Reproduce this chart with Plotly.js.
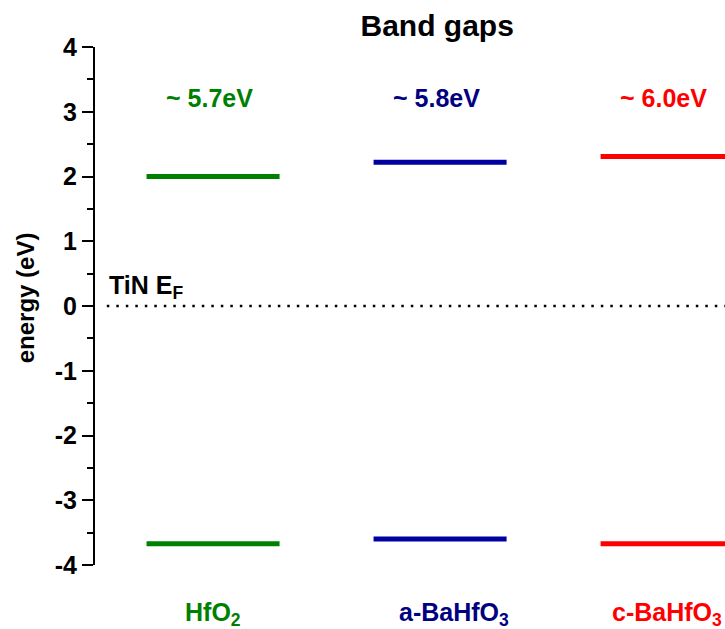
<!DOCTYPE html>
<html><head><meta charset="utf-8">
<script src="https://cdn.plot.ly/plotly-3.0.1.min.js"></script>
<style>body{margin:0;background:#fff}</style>
</head><body><div id="chart" style="width:725px;height:629px"></div>
<script>
// ---- data ----
const materials = ['HfO<sub>2</sub>', 'a-BaHfO<sub>3</sub>', 'c-BaHfO<sub>3</sub>'];
const cbm = [2.0, 2.22, 2.31];        // conduction band minimum (eV)
const vbm = [-3.67, -3.6, -3.67];     // valence band maximum (eV)
const gapLabels = ['~ 5.7eV', '~ 5.8eV', '~ 6.0eV'];
const fermiLevel = 0;
const fermiLabel = 'TiN E<sub>F</sub>';
const yTickVals = [-4, -3, -2, -1, 0, 1, 2, 3, 4];
const yTickText = ['-4', '-3', '-2', '-1', '0', '1', '2', '3', '4'];

// ---- styles ----
const lineColors = ['#008000', '#0000A0', '#FF0000'];
const textColors = ['#008000', '#000080', '#FF0000'];
const FONT = 'Liberation Sans, Arial, sans-serif';
const halfW = 0.293;
const xRange = [-0.52, 2.255];
const gapLabelY = 3.22;
const bottomShift = [0, 14, 0];

const traces = materials.map((m, i) => ({
  type: 'scatter', mode: 'lines',
  x: [i - halfW, i + halfW, null, i - halfW, i + halfW],
  y: [cbm[i], cbm[i], null, vbm[i], vbm[i]],
  line: {color: lineColors[i], width: 5},
  hoverinfo: 'skip', showlegend: false
}));
traces.push({
  type: 'scatter', mode: 'lines',
  x: [-0.468, xRange[1] + 0.2],
  y: [fermiLevel, fermiLevel],
  line: {color: '#000', width: 2.5, dash: '2.5px,7px'},
  hoverinfo: 'skip', showlegend: false
});

const annotations = [];
materials.forEach((m, i) => {
  annotations.push({
    x: i, y: gapLabelY, xref: 'x', yref: 'y', xshift: -4,
    text: '<b>' + gapLabels[i] + '</b>', showarrow: false,
    font: {family: FONT, size: 25, color: textColors[i]},
    xanchor: 'center', yanchor: 'middle'
  });
  annotations.push({
    x: i, y: -0.06, xref: 'x', yref: 'paper', xshift: bottomShift[i],
    text: '<b>' + m + '</b>', showarrow: false,
    font: {family: FONT, size: 25, color: textColors[i]},
    xanchor: 'center', yanchor: 'top'
  });
});
annotations.push({
  x: -0.465, y: fermiLevel, xref: 'x', yref: 'y', yshift: 1,
  text: '<b>' + fermiLabel + '</b>', showarrow: false,
  font: {family: FONT, size: 25, color: '#000'},
  xanchor: 'left', yanchor: 'bottom'
});
annotations.push({
  x: -0.111, y: 0.515, xref: 'paper', yref: 'paper',
  text: '<b>energy (eV)</b>', showarrow: false, textangle: -90,
  font: {family: FONT, size: 24, color: '#000'},
  xanchor: 'center', yanchor: 'middle'
});

const layout = {
  width: 725, height: 629,
  margin: {l: 95, r: 0, t: 47, b: 64},
  paper_bgcolor: '#fff', plot_bgcolor: '#fff',
  title: {
    text: '<b>Band gaps</b>',
    font: {family: FONT, size: 30, color: '#000'},
    x: 0.603, xanchor: 'center', xref: 'container',
    y: 0.96, yanchor: 'middle', yref: 'container'
  },
  xaxis: {range: xRange, visible: false, showgrid: false, zeroline: false, fixedrange: true},
  yaxis: {
    range: [-4, 4], showgrid: false, zeroline: false,
    showline: true, linecolor: '#000', linewidth: 2,
    ticks: 'outside', ticklen: 11, tickwidth: 2, tickcolor: '#000',
    tickmode: 'array', tickvals: yTickVals, ticktext: yTickText,
    tickfont: {family: FONT, size: 25, color: '#000', weight: 'bold'},
    minor: {dtick: 0.5, ticks: 'outside', ticklen: 6, tickwidth: 2, tickcolor: '#000', showgrid: false},
    fixedrange: true
  },
  annotations: annotations
};

Plotly.newPlot('chart', traces, layout, {displayModeBar: false, staticPlot: true});
</script>
</body></html>
